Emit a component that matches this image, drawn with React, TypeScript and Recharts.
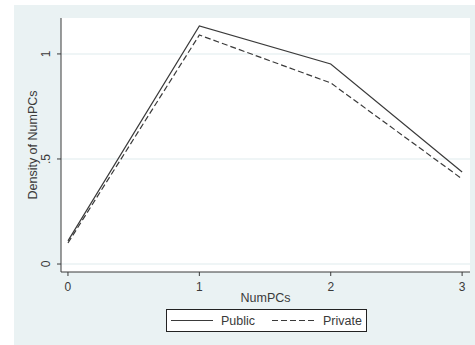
import React from "react";
import { LineChart, Line, XAxis, YAxis, CartesianGrid, Legend } from "recharts";

const numPCs = [0, 1, 2, 3];
const publicDensity = [0.11, 1.133, 0.952, 0.438];
const privateDensity = [0.1, 1.09, 0.862, 0.405];
const xTicks = [0, 1, 2, 3];
const yTicks = [0, 0.5, 1];
const yTickLabels = ["0", ".5", "1"];

const FONT = "'Liberation Sans', Arial, sans-serif";
const INK = "#3a3a3a";
const BG = "#eaf2f3";

const data = numPCs.map((x, i) => ({ x, pub: publicDensity[i], priv: privateDensity[i] }));

// y tick labels are drawn turned on their side, as Stata does
const YTick = (props: any) => {
  const { x, y, payload } = props;
  const label = yTickLabels[yTicks.indexOf(payload.value)] ?? String(payload.value);
  return (
    <text x={x - 9} y={y} transform={`rotate(-90 ${x - 9} ${y})`} textAnchor="middle" dy="0.35em"
      fontFamily={FONT} fontSize={12} fill={INK}>
      {label}
    </text>
  );
};

const XTick = (props: any) => {
  const { x, y, payload } = props;
  return (
    <text x={x} y={y + 13} textAnchor="middle" fontFamily={FONT} fontSize={12} fill={INK}>
      {payload.value}
    </text>
  );
};

const YTitle = (props: any) => {
  const { viewBox } = props;
  const cx = 33;
  const cy = viewBox.y + viewBox.height / 2;
  return (
    <text x={cx} y={cy} transform={`rotate(-90 ${cx} ${cy})`} textAnchor="middle" dy="0.35em"
      fontFamily={FONT} fontSize={12.5} fill={INK}>
      Density of NumPCs
    </text>
  );
};

const XTitle = (props: any) => {
  const { viewBox } = props;
  return (
    <text x={viewBox.x + viewBox.width / 2} y={302} textAnchor="middle"
      fontFamily={FONT} fontSize={12.5} fill={INK}>
      NumPCs
    </text>
  );
};

const LegendBox = () => (
  <svg width={201} height={23} style={{ display: "block" }}>
    <rect x={0.5} y={0.5} width={200} height={22} fill="#fff" stroke="#222" />
    <line x1={5} x2={47} y1={11.5} y2={11.5} stroke={INK} strokeWidth={1.2} />
    <text x={55} y={16} fontFamily={FONT} fontSize={12.5} fill={INK}>Public</text>
    <line x1={106} x2={150} y1={11.5} y2={11.5} stroke={INK} strokeWidth={1.2} strokeDasharray="6 3" />
    <text x={157} y={16} fontFamily={FONT} fontSize={12.5} fill={INK}>Private</text>
  </svg>
);

export default function App() {
  return (
    <div style={{ position: "fixed", left: 0, top: 0, width: 475, height: 345, background: "#fff" }}>
      <div style={{ position: "absolute", left: 14, top: 5, width: 461, height: 340, background: BG }} />
      <div style={{ position: "absolute", left: 0, top: 0 }}>
        <LineChart width={475} height={345} data={data} margin={{ top: 18, right: 5, bottom: 20, left: 21 }}>
          <CartesianGrid vertical={false} fill="#fff" stroke={BG} strokeWidth={1.5} horizontalValues={yTicks} />
          <XAxis dataKey="x" type="number" domain={[-0.053, 3.06]} ticks={xTicks} allowDataOverflow
            height={30} tickSize={4} stroke={INK} tickLine={{ stroke: INK }} tick={<XTick />}
            label={<XTitle />} />
          <YAxis type="number" domain={[-0.038, 1.171]} ticks={yTicks} allowDataOverflow
            width={40} tickSize={4} stroke={INK} tickLine={{ stroke: INK }} tick={<YTick />}
            label={<YTitle />} />
          <Legend content={<LegendBox />} wrapperStyle={{ position: "absolute", left: 166, top: 309, width: 201, height: 23 }} />
          <Line dataKey="pub" name="Public" stroke={INK} strokeWidth={1.2} dot={false} isAnimationActive={false} />
          <Line dataKey="priv" name="Private" stroke={INK} strokeWidth={1.2} strokeDasharray="6 3" dot={false} isAnimationActive={false} />
        </LineChart>
      </div>
    </div>
  );
}
